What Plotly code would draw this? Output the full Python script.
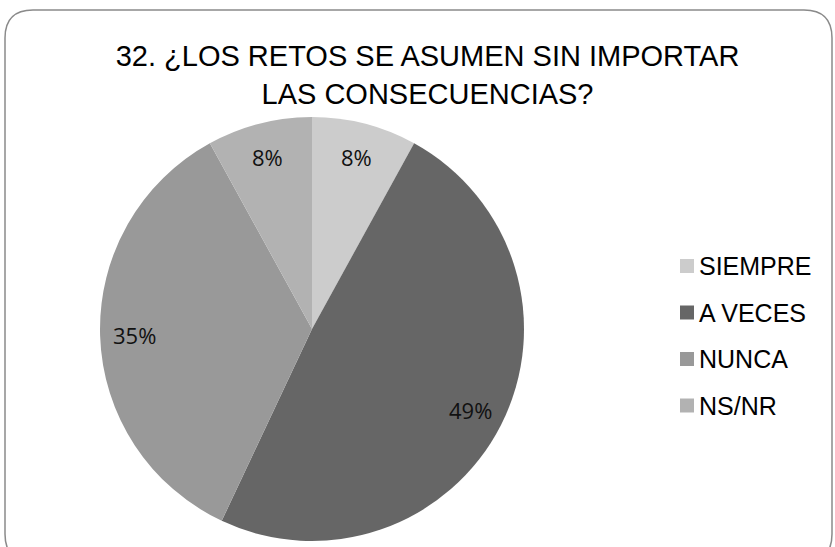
import math
import plotly.graph_objects as go

categories = ["SIEMPRE", "A VECES", "NUNCA", "NS/NR"]
values = [8, 49, 35, 8]
colors = ["#cccccc", "#666666", "#999999", "#b2b2b2"]
title_text = "32. ¿LOS RETOS SE ASUMEN SIN IMPORTAR<br>LAS CONSECUENCIAS?"

W, H = 835, 547
# pie geometry in pixels (centre and radius)
CX, CY, R = 312, 329, 212


def px(x, y):
    return x / W, 1 - y / H


fig = go.Figure()
fig.add_trace(go.Pie(
    labels=categories,
    values=values,
    marker=dict(colors=colors, line=dict(width=0)),
    sort=False,
    direction="clockwise",
    rotation=0,
    textinfo="none",
    domain=dict(x=[(CX - R) / W, (CX + R) / W], y=[1 - (CY + R) / H, 1 - (CY - R) / H]),
    hoverinfo="label+percent",
    showlegend=False,
))

# percentage labels along each slice's mid angle
total = sum(values)
cum = 0
for v in values:
    mid = (cum + v / 2) / total * 2 * math.pi
    cum += v
    lx = CX + 0.84 * R * math.sin(mid)
    ly = CY - 0.84 * R * math.cos(mid)
    ax, ay = px(lx, ly)
    fig.add_annotation(x=ax, y=ay, xref="paper", yref="paper", text=f"{v}%",
                       showarrow=False, xanchor="center", yanchor="middle",
                       font=dict(family="Open Sans", size=22, color="#111111"))

# legend drawn by hand so the row spacing matches
for i, (cat, col) in enumerate(zip(categories, colors)):
    yc = 266 + i * 46.5
    sx0, sy0 = px(680, yc - 7)
    sx1, sy1 = px(694, yc + 7)
    fig.add_shape(type="rect", xref="paper", yref="paper", x0=sx0, y0=sy0, x1=sx1, y1=sy1,
                  fillcolor=col, line=dict(width=0))
    tx, ty = px(697, yc)
    fig.add_annotation(x=tx, y=ty, xref="paper", yref="paper", text=cat, showarrow=False,
                       xanchor="left", yanchor="middle",
                       font=dict(family="Liberation Sans, Arial", size=25, color="#000000"))

# rounded frame around the chart
x0, y0, x1, y1, r = 5, 10, 832, 562, 28
pts = [("M", [(x0 + r, y0)]), ("L", [(x1 - r, y0)]), ("Q", [(x1, y0), (x1, y0 + r)]),
       ("L", [(x1, y1 - r)]), ("Q", [(x1, y1), (x1 - r, y1)]), ("L", [(x0 + r, y1)]),
       ("Q", [(x0, y1), (x0, y1 - r)]), ("L", [(x0, y0 + r)]), ("Q", [(x0, y0), (x0 + r, y0)])]
path = " ".join(cmd + " " + " ".join("%.5f,%.5f" % px(a, b) for a, b in p) for cmd, p in pts) + " Z"
fig.add_shape(type="path", xref="paper", yref="paper", path=path,
              line=dict(color="#8a8a8a", width=1.5), layer="above")

fig.update_layout(
    width=W, height=H,
    margin=dict(l=0, r=0, t=0, b=0),
    paper_bgcolor="white",
    plot_bgcolor="white",
    title=dict(text=title_text, x=0.512, xanchor="center", y=1 - 66 / H, yanchor="top",
               font=dict(family="Liberation Sans, Arial", size=29, color="#000000")),
    showlegend=False,
)

fig.write_html("out.html", config={"displayModeBar": False},
               post_script="document.body.style.margin='0';")
